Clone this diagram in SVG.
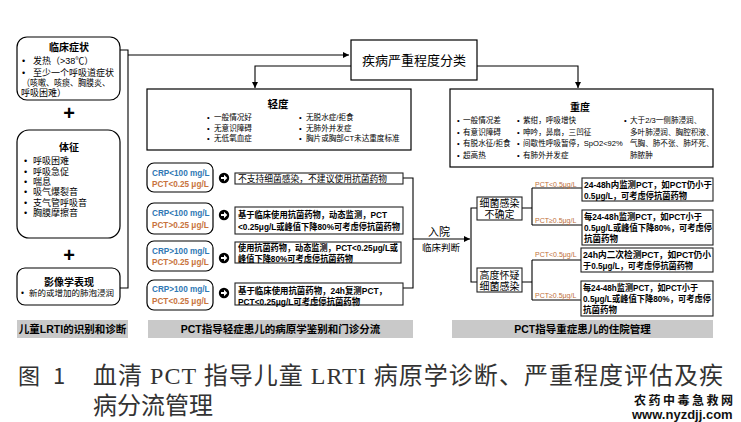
<svg xmlns="http://www.w3.org/2000/svg" width="741" height="422" viewBox="0 0 741 422">
<style>
.t{font-family:"Liberation Sans","Noto Sans CJK SC",sans-serif;fill:#000}
.box{fill:#fff;stroke:#000;stroke-width:1.2}
.rbox{fill:#fff;stroke:#222;stroke-width:1.1}
.conn{fill:none;stroke:#000;stroke-width:1.1}
.lb{font-size:9px}
.hd{font-size:10px;font-weight:bold;text-anchor:middle}
.sm{font-size:7.6px}
.res{font-size:8.6px}
.resb{font-size:8.6px;font-weight:bold}
.crp{font-size:8.2px;font-weight:bold;fill:#2f78b4}
.pct{font-size:8.2px;font-weight:bold;fill:#c8733c}
.pl{font-size:7px;fill:#c0703a}
.plus{font-size:20px;font-weight:bold;text-anchor:middle}
.gray{fill:#c9c9c9}
.glab{font-size:10.5px;font-weight:bold;text-anchor:middle}
.cap{font-family:"Liberation Serif","Noto Sans CJK SC",serif;font-size:24px;fill:#333}
.fig{font-family:"Noto Sans CJK SC",sans-serif;font-size:22px;fill:#333}
</style>
<defs>
<marker id="ah" viewBox="0 0 8 8" refX="8" refY="4" markerWidth="6" markerHeight="6" orient="auto" markerUnits="userSpaceOnUse"><path d="M0,0 L8,4 L0,8z" fill="#000"/></marker>
<g id="go"><circle r="5.2" fill="#000"/><path d="M-3,-1 H0 V-3.2 L3.3,0 L0,3.2 V1 H-3z" fill="#fff"/></g>
</defs>

<!-- connectors -->
<g id="connectors">
<path class="conn" d="M120,50 H128 V288 H120"/>
<path class="conn" d="M128,55 H349" marker-end="url(#ah)"/>
<path class="conn" d="M351,66 H255 V88" marker-end="url(#ah)"/>
<path class="conn" d="M477,66 H578 V88" marker-end="url(#ah)"/>
<path class="conn" d="M403,178 H413 V288 H403"/>
<path class="conn" d="M413,239 H470" marker-end="url(#ah)"/>
<path class="conn" d="M477,208 H471 V282 H477"/>
<path class="conn" d="M522,208 H532 M532,188 V225 M532,188 H582 M532,225 H582"/>
<path class="conn" d="M522,282 H532 M532,260 V300 M532,260 H581 M532,300 H581"/>
</g>

<!-- left column -->
<g id="clinical">
<rect class="box" x="17" y="37" width="103" height="63" rx="10"/>
<text class="t hd" x="69" y="51">临床症状</text>
<text class="t lb" x="22" y="64">•</text><text class="t lb" x="33" y="64">发热（&gt;38℃）</text>
<text class="t lb" x="22" y="76">•</text><text class="t lb" x="33" y="76">至少一个呼吸道症状</text>
<text class="t lb" x="22" y="86" textLength="88" lengthAdjust="spacingAndGlyphs">（咳嗽、咳痰、胸膜炎、</text>
<text class="t lb" x="21" y="96">呼吸困难）</text>
</g>
<text class="t plus" x="69" y="120">+</text>
<g id="signs">
<rect class="box" x="17" y="130" width="103" height="108" rx="12"/>
<text class="t hd" x="69" y="151">体征</text>
<text class="t lb" x="24" y="164">•</text><text class="t lb" x="33" y="164">呼吸困难</text>
<text class="t lb" x="24" y="174.5">•</text><text class="t lb" x="33" y="174.5">呼吸急促</text>
<text class="t lb" x="24" y="185">•</text><text class="t lb" x="33" y="185">喘息</text>
<text class="t lb" x="24" y="195">•</text><text class="t lb" x="33" y="195">吸气爆裂音</text>
<text class="t lb" x="24" y="205.5">•</text><text class="t lb" x="33" y="205.5">支气管呼吸音</text>
<text class="t lb" x="24" y="216">•</text><text class="t lb" x="33" y="216">胸膜摩擦音</text>
</g>
<text class="t plus" x="69" y="262">+</text>
<g id="imaging">
<rect class="box" x="17" y="268" width="103" height="37" rx="8"/>
<text class="t hd" x="69" y="286">影像学表现</text>
<text class="t" x="21" y="296" style="font-size:8.5px">•</text><text class="t" x="29" y="296" style="font-size:8.5px">新的或增加的肺泡浸润</text>
</g>

<!-- severity -->
<g id="severity">
<rect class="box" x="351" y="40" width="126" height="40"/>
<text class="t" x="414" y="65" style="font-size:13px" text-anchor="middle">疾病严重程度分类</text>
</g>
<g id="mild">
<rect class="box" x="147" y="89" width="264" height="61"/>
<text class="t" x="278" y="108" style="font-size:10.5px;font-weight:bold" text-anchor="middle">轻度</text>
<text class="t sm" x="207" y="120">•</text><text class="t sm" x="214" y="120">一般情况好</text>
<text class="t sm" x="207" y="130.5">•</text><text class="t sm" x="214" y="130.5">无意识障碍</text>
<text class="t sm" x="207" y="141">•</text><text class="t sm" x="214" y="141">无低氧血症</text>
<text class="t sm" x="299" y="120">•</text><text class="t sm" x="306" y="120">无脱水症/拒食</text>
<text class="t sm" x="299" y="130.5">•</text><text class="t sm" x="306" y="130.5">无肺外并发症</text>
<text class="t sm" x="299" y="141">•</text><text class="t sm" x="306" y="141">胸片或胸部CT未达重度标准</text>
</g>
<g id="severe">
<rect class="box" x="450" y="89" width="263" height="78"/>
<text class="t" x="580" y="111" style="font-size:10px;font-weight:bold" text-anchor="middle">重度</text>
<text class="t sm" x="457" y="123">•</text><text class="t sm" x="463" y="123">一般情况差</text>
<text class="t sm" x="457" y="134.5">•</text><text class="t sm" x="463" y="134.5">有意识障碍</text>
<text class="t sm" x="457" y="146">•</text><text class="t sm" x="463" y="146">有脱水征/拒食</text>
<text class="t sm" x="457" y="158">•</text><text class="t sm" x="463" y="158">超高热</text>
<text class="t sm" x="517" y="123">•</text><text class="t sm" x="523" y="123">紫绀，呼吸增快</text>
<text class="t sm" x="517" y="134.5">•</text><text class="t sm" x="523" y="134.5">呻吟，鼻扇，三凹征</text>
<text class="t sm" x="517" y="146">•</text><text class="t sm" x="523" y="146">间歇性呼吸暂停，SpO2&lt;92%</text>
<text class="t sm" x="517" y="158">•</text><text class="t sm" x="523" y="158">有肺外并发症</text>
<text class="t sm" x="624" y="123">•</text><text class="t sm" x="630" y="123">大于2/3一侧肺浸润、</text>
<text class="t sm" x="630" y="134.5">多叶肺浸润、胸腔积液、</text>
<text class="t sm" x="630" y="146">气胸、肺不张、肺坏死、</text>
<text class="t sm" x="630" y="158">肺脓肿</text>
</g>

<!-- outpatient PCT -->
<g id="lab-a">
<rect class="box" x="147" y="163" width="66" height="29" rx="7"/>
<text class="t crp" x="152" y="176">CRP&lt;100 mg/L</text>
<text class="t pct" x="152" y="187">PCT&lt;0.25 μg/L</text>
<use href="#go" x="224" y="178"/>
</g>
<g id="res-a">
<rect class="rbox" x="235" y="173" width="168" height="11"/>
<text class="t res" x="238" y="181.5" textLength="149" lengthAdjust="spacingAndGlyphs">不支持细菌感染，不建议使用抗菌药物</text>
</g>
<g id="lab-b">
<rect class="box" x="147" y="203" width="66" height="31" rx="7"/>
<text class="t crp" x="152" y="216">CRP&lt;100 mg/L</text>
<text class="t pct" x="152" y="228">PCT&gt;0.25 μg/L</text>
<use href="#go" x="224" y="215"/>
</g>
<g id="res-b">
<rect class="rbox" x="235" y="207" width="168" height="27"/>
<text class="t resb" x="238" y="218" textLength="149" lengthAdjust="spacingAndGlyphs">基于临床使用抗菌药物，动态监测，PCT</text>
<text class="t resb" x="238" y="230" textLength="162" lengthAdjust="spacingAndGlyphs">&lt;0.25μg/L或峰值下降80%可考虑停抗菌药物</text>
</g>
<g id="lab-c">
<rect class="box" x="147" y="241" width="66" height="30" rx="7"/>
<text class="t crp" x="152" y="254">CRP&gt;100 mg/L</text>
<text class="t pct" x="152" y="265">PCT&gt;0.25 μg/L</text>
<use href="#go" x="224" y="258"/>
</g>
<g id="res-c">
<rect class="rbox" x="235" y="242" width="166" height="21"/>
<text class="t resb" x="238" y="250.5" textLength="160" lengthAdjust="spacingAndGlyphs">使用抗菌药物，动态监测，PCT&lt;0.25μg/L或</text>
<text class="t resb" x="238" y="261.5" textLength="115" lengthAdjust="spacingAndGlyphs">峰值下降80%可考虑停抗菌药物</text>
</g>
<g id="lab-d">
<rect class="box" x="147" y="280" width="66" height="30" rx="7"/>
<text class="t crp" x="152" y="292">CRP&gt;100 mg/L</text>
<text class="t pct" x="152" y="304">PCT&lt;0.25 μg/L</text>
<use href="#go" x="224" y="293"/>
</g>
<g id="res-d">
<rect class="rbox" x="235" y="283" width="168" height="22"/>
<text class="t resb" x="238" y="294" textLength="149" lengthAdjust="spacingAndGlyphs">基于临床使用抗菌药物，24h复测PCT，</text>
<text class="t resb" x="238" y="304.5" textLength="122" lengthAdjust="spacingAndGlyphs">PCT&lt;0.25μg/L可考虑停抗菌药物</text>
</g>

<g id="admission">
<text class="t" x="439" y="236" style="font-size:11px" text-anchor="middle">入院</text>
<text class="t" x="441" y="250.5" style="font-size:9.5px" text-anchor="middle">临床判断</text>
</g>

<!-- inpatient -->
<g id="uncertain">
<rect class="rbox" x="477" y="197" width="45" height="23"/>
<text class="t" x="499.5" y="207" style="font-size:10px" text-anchor="middle">细菌感染</text>
<text class="t" x="499.5" y="218" style="font-size:10px" text-anchor="middle">不确定</text>
</g>
<g id="suspected">
<rect class="rbox" x="477" y="268" width="45" height="24"/>
<text class="t" x="499.5" y="278.5" style="font-size:10px" text-anchor="middle">高度怀疑</text>
<text class="t" x="499.5" y="289.5" style="font-size:10px" text-anchor="middle">细菌感染</text>
</g>
<g id="branch-labels">
<text class="t pl" x="535" y="186.5">PCT&lt;0.5μg/L</text>
<text class="t pl" x="535" y="223">PCT≥0.5μg/L</text>
<text class="t pl" x="535" y="257">PCT&lt;0.5μg/L</text>
<text class="t pl" x="535" y="298">PCT≥0.5μg/L</text>
</g>
<g id="r1">
<rect class="rbox" x="582" y="178" width="131" height="23"/>
<text class="t resb" x="584" y="188" textLength="128" lengthAdjust="spacingAndGlyphs">24-48h内监测PCT，如PCT仍小于</text>
<text class="t resb" x="584" y="199" textLength="103" lengthAdjust="spacingAndGlyphs">0.5μg/L，可考虑停抗菌药物</text>
</g>
<g id="r2">
<rect class="rbox" x="582" y="210" width="131" height="35"/>
<text class="t resb" x="584" y="219.5" textLength="118" lengthAdjust="spacingAndGlyphs">每24-48h监测PCT，如PCT小于</text>
<text class="t resb" x="584" y="230.5" textLength="128" lengthAdjust="spacingAndGlyphs">0.5μg/L或峰值下降80%，可考虑停</text>
<text class="t resb" x="584" y="241.5" textLength="34" lengthAdjust="spacingAndGlyphs">抗菌药物</text>
</g>
<g id="r3">
<rect class="rbox" x="581" y="248" width="132" height="24"/>
<text class="t resb" x="583" y="258" textLength="128" lengthAdjust="spacingAndGlyphs">24h内二次检测PCT，如PCT仍小</text>
<text class="t resb" x="583" y="268.5" textLength="110" lengthAdjust="spacingAndGlyphs">于0.5μg/L，可考虑停抗菌药物</text>
</g>
<g id="r4">
<rect class="rbox" x="581" y="281" width="132" height="35"/>
<text class="t resb" x="583" y="291" textLength="115" lengthAdjust="spacingAndGlyphs">每24-48h监测PCT，如PCT小于</text>
<text class="t resb" x="583" y="302" textLength="128" lengthAdjust="spacingAndGlyphs">0.5μg/L或峰值下降80%，可考虑停</text>
<text class="t resb" x="583" y="313" textLength="34" lengthAdjust="spacingAndGlyphs">抗菌药物</text>
</g>

<!-- section labels -->
<g id="section-labels">
<rect class="gray" x="17" y="320" width="111" height="18"/>
<text class="t glab" x="72.5" y="333">儿童LRTI的识别和诊断</text>
<rect class="gray" x="148" y="320" width="265" height="18"/>
<text class="t glab" x="280.5" y="333">PCT指导轻症患儿的病原学鉴别和门诊分流</text>
<rect class="gray" x="452" y="320" width="261" height="18"/>
<text class="t glab" x="582.5" y="333">PCT指导重症患儿的住院管理</text>
</g>

<!-- caption -->
<g id="caption">
<text class="fig" x="18" y="384">图</text>
<text class="fig" x="53" y="384">1</text>
<text class="cap" x="93" y="384" textLength="630" lengthAdjust="spacing">血清 PCT 指导儿童 LRTI 病原学诊断、严重程度评估及疾</text>
<text class="cap" x="93" y="414">病分流管理</text>
<text x="634" y="405" style="font-family:'Noto Sans CJK SC',sans-serif;font-size:12px;font-weight:bold;letter-spacing:2.5px;fill:#111">农药中毒急救网</text>
<text x="632" y="419" style="font-family:'Liberation Sans',sans-serif;font-size:13px;font-weight:bold;fill:#111">www.nyzdjj.com</text>
</g>
</svg>
